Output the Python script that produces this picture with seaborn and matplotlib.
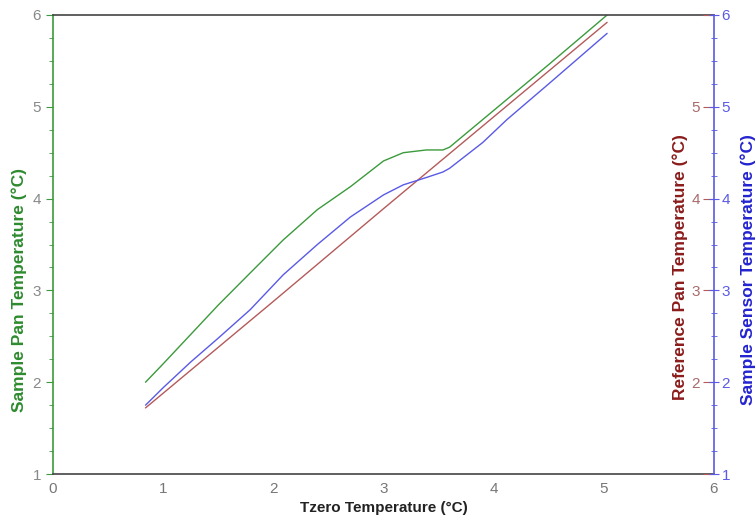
import numpy as np
import pandas as pd
import seaborn as sns
import matplotlib.pyplot as plt
from matplotlib.ticker import MultipleLocator

sns.set_style("white")
plt.rcParams['font.family'] = ['Liberation Sans', 'DejaVu Sans']

# lecture des courbes
tzero = [0.84, 1.0, 1.25, 1.5, 1.79, 2.09, 2.4, 2.7, 3.0, 3.18, 3.39, 3.54, 3.6, 3.9, 4.12, 4.5, 5.03]
sample_pan = [2.00, 2.20, 2.52, 2.84, 3.19, 3.55, 3.88, 4.13, 4.41, 4.50, 4.53, 4.53, 4.56, 4.86, 5.08, 5.46, 6.00]
sample_sensor = [1.75, 1.94, 2.22, 2.48, 2.79, 3.17, 3.50, 3.80, 4.04, 4.15, 4.23, 4.29, 4.33, 4.61, 4.86, 5.25, 5.80]
tzero_ref = [0.84, 2.0, 3.0, 4.0, 5.03]
ref_pan = [1.72, 2.88, 3.89, 4.89, 5.92]

vert = "#3c9a3c"
rouge = "#b55a5a"
bleu = "#5a5ae6"

fig = plt.figure(figsize=(7.56, 5.19), dpi=100)
ax = fig.add_axes([0.0701, 0.0867, 0.8743, 0.8844])
ax2 = ax.twinx()
ax3 = ax.twinx()

sns.lineplot(x=tzero, y=sample_pan, ax=ax, color=vert, lw=1.0)
sns.lineplot(x=tzero_ref, y=ref_pan, ax=ax2, color=rouge, lw=1.0)
sns.lineplot(x=tzero, y=sample_sensor, ax=ax3, color=bleu, lw=1.0)

for a in (ax, ax2, ax3):
    a.set_xlim(0, 6)
    a.set_ylim(1, 6)
    a.yaxis.set_major_locator(MultipleLocator(1))
    a.yaxis.set_minor_locator(MultipleLocator(0.25))

ax.xaxis.set_major_locator(MultipleLocator(1))
ax.xaxis.set_minor_locator(MultipleLocator(0.25))
ax.tick_params(axis='x', which='major', direction='inout', length=7, color='#555555',
               labelcolor='#777777', labelsize=11, pad=2)
ax.tick_params(axis='x', which='minor', direction='inout', length=4, color='#555555')
ax.tick_params(axis='y', which='major', direction='out', length=5, color=vert,
               labelcolor='#888888', labelsize=11)
ax.tick_params(axis='y', which='minor', direction='out', length=3, color=vert)

ax.spines['left'].set_color(vert)
ax.spines['bottom'].set_color('#444444')
ax.spines['top'].set_color('#444444')
ax.spines['right'].set_visible(False)
for s in ('left', 'bottom', 'top'):
    ax.spines[s].set_linewidth(1.2)

# axe rouge : graduations vers l'intérieur, étiquettes à gauche de l'axe
ax2.spines[['left', 'top', 'bottom', 'right']].set_visible(False)
ax2.yaxis.set_minor_locator(plt.NullLocator())
ax2.tick_params(axis='y', which='major', direction='in', length=8, color=rouge,
                labelcolor='#a86a6a', labelsize=11, pad=-10)
ax2.set_yticks([1, 2, 3, 4, 5, 6])
ax2.set_yticklabels(['', '2', '3', '4', '5', ''])
for lab in ax2.get_yticklabels():
    lab.set_horizontalalignment('right')

ax3.spines[['left', 'top', 'bottom']].set_visible(False)
ax3.spines['right'].set_color(bleu)
ax3.spines['right'].set_linewidth(1.2)
ax3.tick_params(axis='y', which='major', direction='inout', length=7, color=bleu,
                labelcolor=bleu, labelsize=11, pad=2)
ax3.tick_params(axis='y', which='minor', direction='inout', length=4, color=bleu)

ax.set_xlabel("Tzero Temperature (°C)", fontsize=11, fontweight='bold', color='#222222')
ax.set_ylabel("Sample Pan Temperature (°C)", fontsize=12.5, fontweight='bold', color='#2e8b2e')
ax.yaxis.set_label_coords(-0.04, 0.40)
ax2.set_ylabel("Reference Pan Temperature (°C)", fontsize=12.5, fontweight='bold', color='#8b1c1c')
ax2.yaxis.set_label_coords(0.937, 0.45)
ax3.set_ylabel("Sample Sensor Temperature (°C)", fontsize=12.5, fontweight='bold', color='#2424d0')
ax3.yaxis.set_label_coords(1.040, 0.445)

fig.savefig("out.png", dpi=100)
